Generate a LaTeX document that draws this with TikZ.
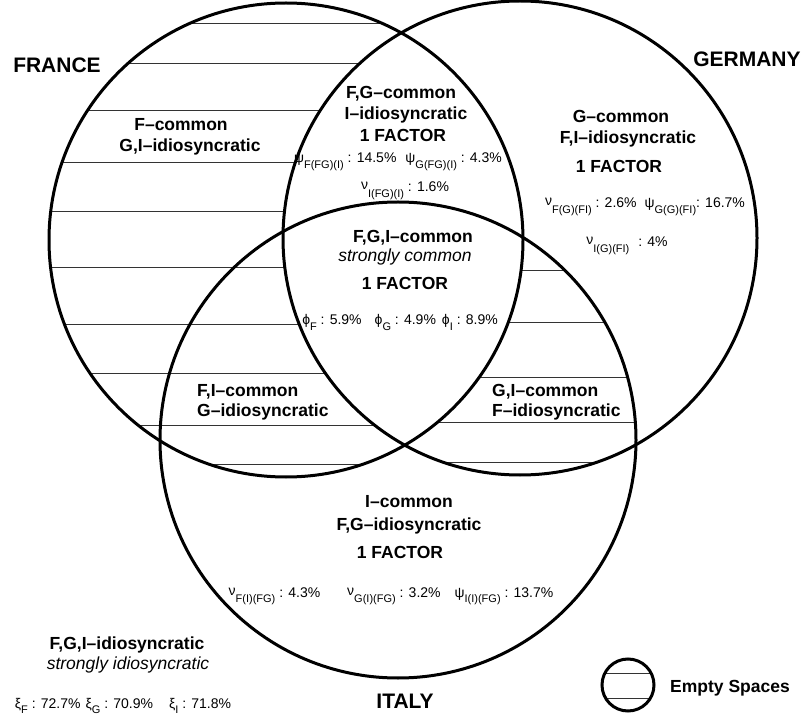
\documentclass[tikz,border=0pt]{standalone}
\usepackage{fontspec}
\setmainfont{Liberation Sans}
\newcommand\subidx[1]{\raisebox{-5.5pt}{\fontsize{11}{11}\selectfont #1}}
\newcommand\nuup{\raisebox{2pt}{ν}}
\tikzset{
  region/.style={font=\fontsize{17.5}{21}\selectfont\bfseries, inner sep=0pt, anchor=base},
  country/.style={font=\fontsize{21}{24}\selectfont\bfseries, inner sep=0pt, anchor=base},
  note/.style={font=\fontsize{17.5}{21}\selectfont\itshape, inner sep=0pt, anchor=base},
  share/.style={font=\fontsize{14}{16}\selectfont, inner sep=0pt, anchor=base},
  ring/.style={line width=3pt},
  hatch/.style={line width=0.9pt, black!80},
}
\begin{document}
\begin{tikzpicture}[x=1pt,y=-1pt]
    \useasboundingbox (0,0) rectangle (807,722);

    % 三个圆的圆心
    \coordinate (F) at (286,240);
    \coordinate (G) at (520,238);
    \coordinate (I) at (398,440);

    % 绘制空白区域的横线
    \begin{scope}
        \clip (F) circle (237pt);
        \foreach \y in {23,63,110,162,211,267,324,373,425,464}
            \draw[hatch] (0,\y) -- (807,\y);
        \fill[white] (G) circle (237pt);
    \end{scope}
    \begin{scope}
        \clip (G) circle (237pt);
        \clip (I) circle (238pt);
        \foreach \y in {270,322,377,422,462}
            \draw[hatch] (0,\y) -- (807,\y);
        \fill[white] (F) circle (237pt);
    \end{scope}

    % 绘制三个圆
    \draw[ring] (F) circle (237pt);
    \draw[ring] (G) circle (237pt);
    \draw[ring] (I) circle (238pt);

    % 国家名
    \node[country] (france) at (57,73) {FRANCE};
    \node[country] (germany) at (747,67) {GERMANY};
    \node[country] (italy) at (405,708) {ITALY};

    % F 区域
    \node[region] (fcom) at (181,131) {F–common};
    \node[region] (fidio) at (190,152) {G,I–idiosyncratic};

    % F,G 区域
    \node[region] (fgcom) at (401,99) {F,G–common};
    \node[region] (fgidio) at (406,120) {I–idiosyncratic};
    \node[region] (fgfac) at (403,142) {1 FACTOR};
    \node[share] (fgpsi) at (398,163) {ψ\subidx{F(FG)(I)} : 14.5\%\hspace{9pt}ψ\subidx{G(FG)(I)} : 4.3\%};
    \node[share] (fgnu) at (405,192) {\nuup\subidx{I(FG)(I)} : 1.6\%};

    % F,G,I 区域
    \node[region] (fgicom) at (413,243) {F,G,I–common};
    \node[note] (fgistrong) at (405,262) {strongly common};
    \node[region] (fgifac) at (405,290) {1 FACTOR};
    \node[share] (fgiphi) at (400,325) {ϕ\subidx{F} : 5.9\%\hspace{13pt}ϕ\subidx{G} : 4.9\%\hspace{6pt}ϕ\subidx{I} : 8.9\%};

    % G 区域
    \node[region] (gcom) at (621,123) {G–common};
    \node[region] (gidio) at (628,144) {F,I–idiosyncratic};
    \node[region] (gfac) at (619,173) {1 FACTOR};
    \node[share] (gshare) at (645,208) {\nuup\subidx{F(G)(FI)} : 2.6\%\hspace{8pt}ψ\subidx{G(G)(FI)}: 16.7\%};
    \node[share] (gnu) at (627,247) {\nuup\subidx{I(G)(FI)}\hspace{9pt}: 4\%};

    % F,I 和 G,I 区域
    \node[region, anchor=base west] (ficom) at (197,396) {F,I–common};
    \node[region, anchor=base west] (fiidio) at (197,417) {G–idiosyncratic};
    \node[region, anchor=base west] (gicom) at (492,396) {G,I–common};
    \node[region, anchor=base west] (giidio) at (492,417) {F–idiosyncratic};

    % I 区域
    \node[region] (icom) at (409,507) {I–common};
    \node[region] (iidio) at (409,530) {F,G–idiosyncratic};
    \node[region] (ifac) at (400,558) {1 FACTOR};
    \node[share] (ishare) at (391,597) {\nuup\subidx{F(I)(FG)} : 4.3\%\hspace{27pt}\nuup\subidx{G(I)(FG)} : 3.2\%\hspace{14pt}ψ\subidx{I(I)(FG)} : 13.7\%};

    % 圆外区域
    \node[region] (outidio) at (127,649) {F,G,I–idiosyncratic};
    \node[note] (outstrong) at (128,669) {strongly idiosyncratic};
    \node[share] (outxi) at (123,708) {ξ\subidx{F} : 72.7\%\hspace{5pt}ξ\subidx{G} : 70.9\%\hspace{16pt}ξ\subidx{I} : 71.8\%};

    % 图例
    \coordinate (L) at (628,685);
    \begin{scope}
        \clip (L) circle (26pt);
        \draw[hatch] (600,673) -- (660,673);
        \draw[hatch] (600,698) -- (660,698);
    \end{scope}
    \draw[ring] (L) circle (26pt);
    \node[region, anchor=base west] (empty) at (670,692) {Empty Spaces};
\end{tikzpicture}
\end{document}
